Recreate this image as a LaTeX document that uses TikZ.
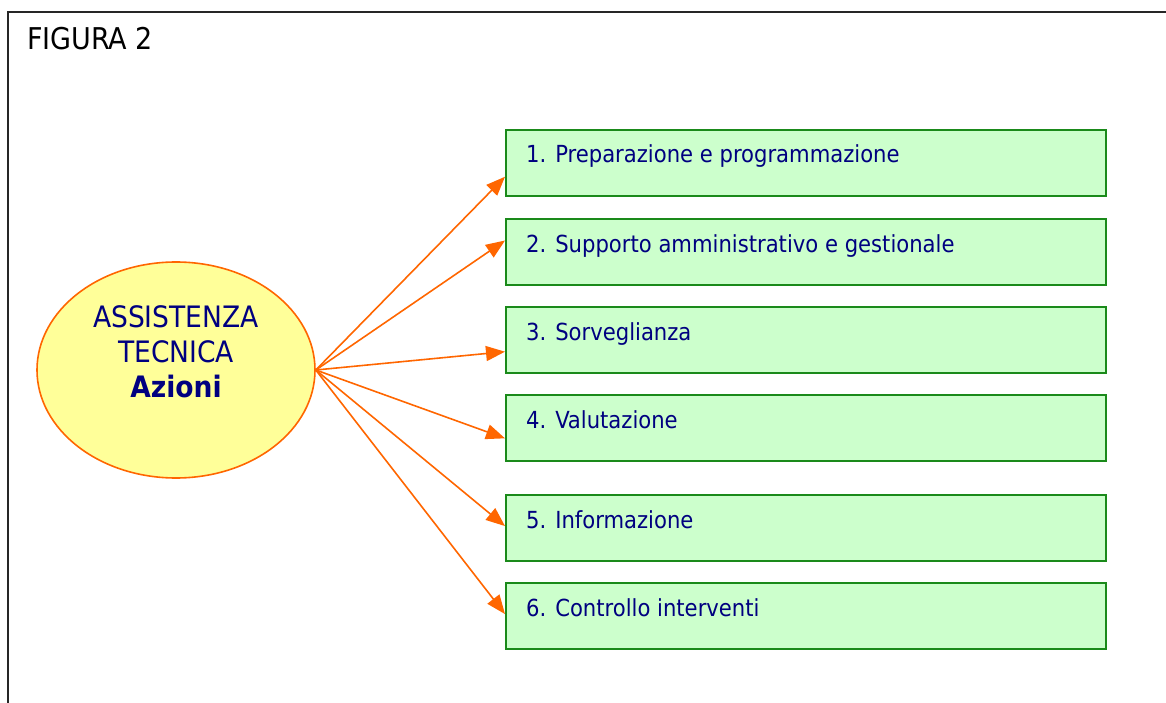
\documentclass[tikz,border=0pt]{standalone}
\usepackage{fontspec}
\setmainfont{DejaVu Sans Condensed}
\usetikzlibrary{arrows.meta,calc,shapes.geometric}
\definecolor{navytext}{HTML}{000080}
\definecolor{boxfill}{HTML}{CCFFCC}
\definecolor{boxline}{HTML}{1A8A1A}
\definecolor{ellfill}{HTML}{FFFF99}
\definecolor{orangeline}{HTML}{FF6600}
\tikzset{
  actbox/.style={draw=boxline, line width=2.2pt, fill=boxfill, minimum width=600pt, minimum height=66pt, inner sep=0pt, anchor=north west},
  acttext/.style={text=navytext, font=\fontsize{23.5}{28}\selectfont, anchor=base west, inner sep=0pt},
  conn/.style={draw=orangeline, line width=1.6pt, -{Triangle[length=19pt,width=15pt]}},
}
\begin{document}
\begin{tikzpicture}[x=1pt,y=-1pt]
\useasboundingbox (0,0) rectangle (1166,703);
% frame
\coordinate (ftr) at (1166,12);
\coordinate (ftl) at (8,12);
\coordinate (fbl) at (8,703);
\draw[line width=1.6pt, black!85] (ftr) -- (ftl) -- (fbl);
\node[anchor=base west, inner sep=0pt, font=\fontsize{30}{34}\selectfont] (fig) at (27,50) {FIGURA 2};
% ellipse
\node[ellipse, draw=orangeline, line width=1.6pt, fill=ellfill, minimum width=278pt, minimum height=216pt, inner sep=0pt] (e) at (176,370) {};
\node[text=navytext, align=center, font=\fontsize{29.5}{35}\selectfont, inner sep=0pt] (et) at (176,352) {ASSISTENZA\\TECNICA\\\textbf{Azioni}};
% boxes
\node[actbox] (b1) at (505,129) {};
\node[actbox] (b2) at (505,218) {};
\node[actbox] (b3) at (505,306) {};
\node[actbox] (b4) at (505,394) {};
\node[actbox] (b5) at (505,494) {};
\node[actbox] (b6) at (505,582) {};
\node[acttext] (t1) at ($(b1.north west)+(21,34)$) {1. Preparazione e programmazione};
\node[acttext] (t2) at ($(b2.north west)+(21,34)$) {2. Supporto amministrativo e gestionale};
\node[acttext] (t3) at ($(b3.north west)+(21,34)$) {3. Sorveglianza};
\node[acttext] (t4) at ($(b4.north west)+(21,34)$) {4. Valutazione};
\node[acttext] (t5) at ($(b5.north west)+(21,34)$) {5. Informazione};
\node[acttext] (t6) at ($(b6.north west)+(21,34)$) {6. Controllo interventi};
% connectors
\coordinate (src) at (e.east);
\draw[conn] (src) -- ($(b1.north west)!0.7!(b1.south west)$);
\draw[conn] (src) -- ($(b2.north west)!0.33!(b2.south west)$);
\draw[conn] (src) -- ($(b3.north west)!0.67!(b3.south west)$);
\draw[conn] (src) -- ($(b4.north west)!0.65!(b4.south west)$);
\draw[conn] (src) -- ($(b5.north west)!0.47!(b5.south west)$);
\draw[conn] (src) -- ($(b6.north west)!0.47!(b6.south west)$);
\end{tikzpicture}
\end{document}
